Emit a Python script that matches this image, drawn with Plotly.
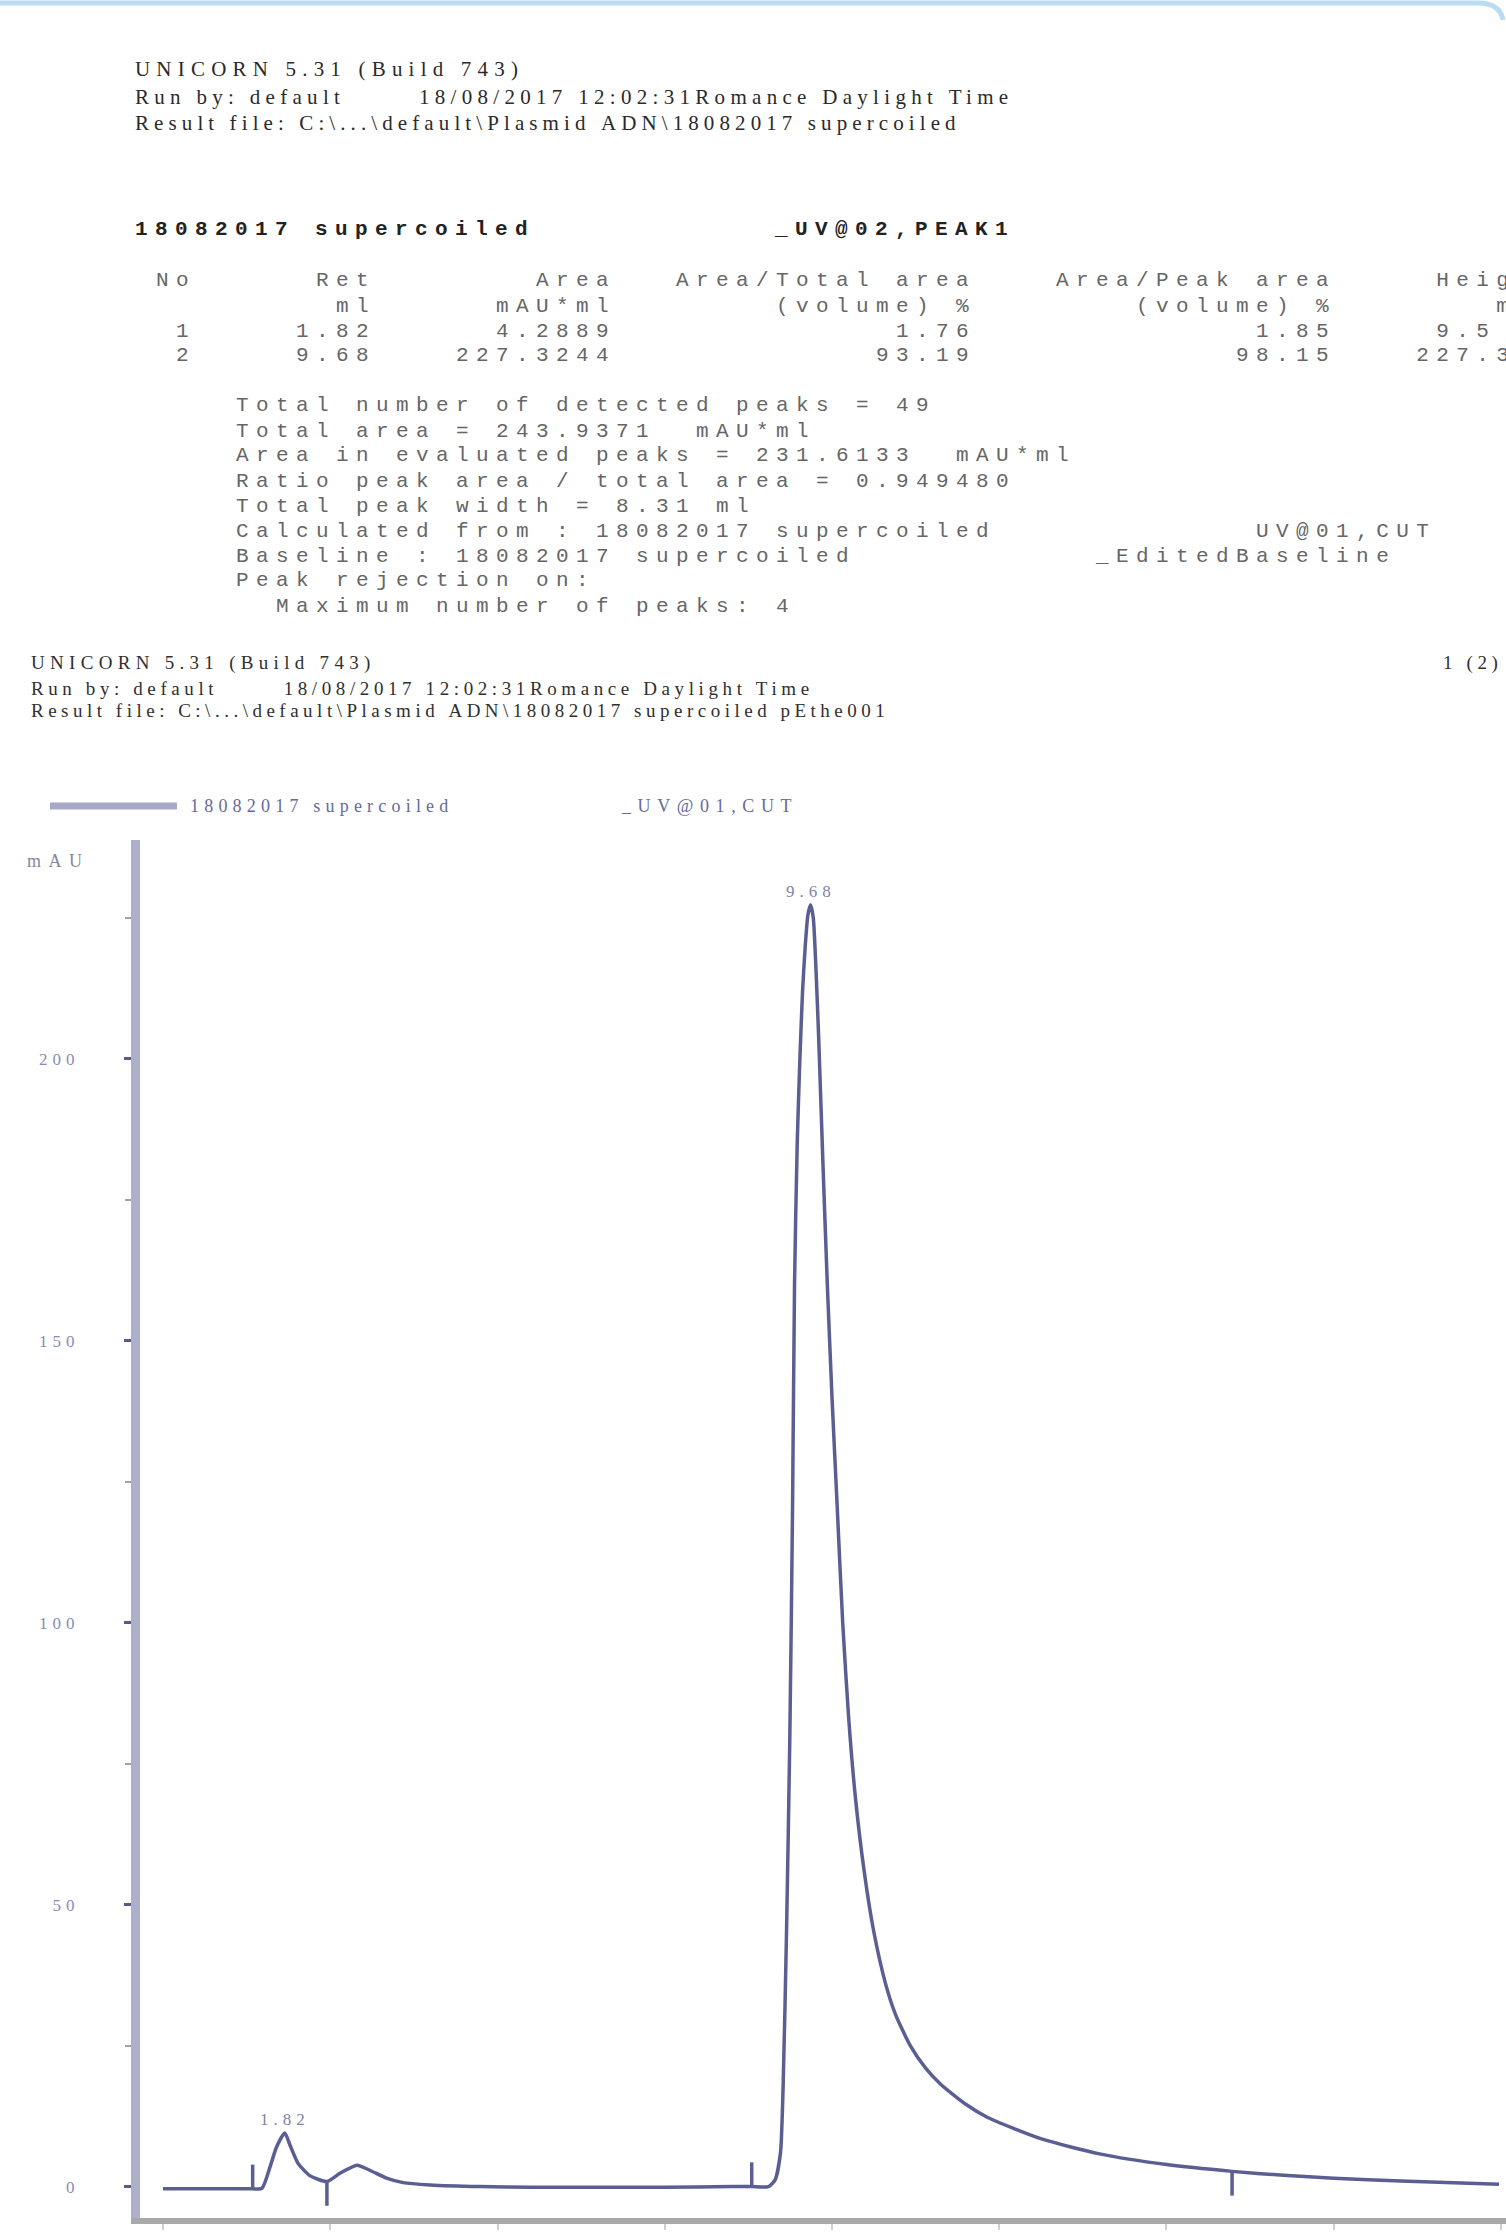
import plotly.graph_objects as go

# ---------------- data ----------------
volume_ml = [0.00, 0.60, 1.20, 1.34, 1.48, 1.60, 1.70, 1.82, 1.90, 2.02,
             2.20, 2.45, 2.65, 2.90, 3.09, 3.34, 3.59, 3.99, 4.74, 5.50,
             6.50, 7.50, 8.50, 8.80, 9.05, 9.15, 9.23, 9.27, 9.32, 9.37,
             9.41, 9.44, 9.48, 9.52, 9.56, 9.60, 9.64, 9.68, 9.72, 9.76,
             9.80, 9.86, 9.93, 10.00, 10.08, 10.16, 10.25, 10.35, 10.48, 10.62,
             10.80, 10.95, 11.17, 11.40, 11.62, 12.00, 12.32, 13.12, 14.00, 15.00,
             15.98, 16.75, 17.50, 18.50, 19.97]
uv_mau = [-0.4, -0.4, -0.4, -0.4, -0.3, 3.5, 7.1, 9.5, 7.3, 4.1,
          1.9, 0.9, 2.4, 3.8, 2.9, 1.5, 0.7, 0.3, 0.0, -0.1,
          -0.1, -0.1, 0.0, 0.0, 0.0, 1.2, 6.0, 18.0, 45.0, 80.0,
          120.0, 160.0, 185.0, 200.0, 212.0, 220.0, 225.5, 227.3, 225.0, 216.0,
          204.0, 183.0, 160.0, 140.0, 120.0, 100.0, 83.0, 69.0, 56.0, 45.5,
          36.0, 30.5, 25.0, 21.0, 18.2, 14.6, 12.3, 8.5, 5.8, 3.9,
          2.7, 2.0, 1.5, 1.0, 0.4]

peak_ret = [1.82, 9.68]
peak_height = [9.5, 227.3]
peak_labels = ["1.82", "9.68"]

# peak start / end markers (position, curve level, direction)
marker_ml = [1.34, 2.45, 8.80, 15.98]
marker_level = [-0.4, 0.9, 0.0, 2.7]
marker_dir = [1, -1, 1, -1]
MARK_LEN = 4.3

y_tickvals = [0, 50, 100, 150, 200]
y_ticklabels = ["0", "50", "100", "150", "200"]
y_minor = [25, 75, 125, 175, 225]
x_tickvals = [0, 5, 10, 15, 20]
x_ticklabels = ["0.0", "5.0", "10.0", "15.0", "20.0"]
x_minor = [2.5, 7.5, 12.5, 17.5]

header1 = ["UNICORN 5.31 (Build 743)",
           "Run by: default       18/08/2017 12:02:31Romance Daylight Time",
           "Result file: C:\\...\\default\\Plasmid ADN\\18082017 supercoiled"]
table_title = "18082017 supercoiled" + " " * 12 + "_UV@02,PEAK1"
table_lines = [
    " No" + " " * 6 + "Ret" + " " * 8 + "Area" + " " * 3 + "Area/Total area" + " " * 4 + "Area/Peak area" + " " * 5 + "Height",
    " " * 10 + "ml" + " " * 6 + "mAU*ml" + " " * 8 + "(volume) %" + " " * 8 + "(volume) %" + " " * 8 + "mAU",
    " " * 2 + "1" + " " * 5 + "1.82" + " " * 6 + "4.2889" + " " * 14 + "1.76" + " " * 14 + "1.85" + " " * 5 + "9.5",
    " " * 2 + "2" + " " * 5 + "9.68" + " " * 4 + "227.3244" + " " * 13 + "93.19" + " " * 13 + "98.15" + " " * 4 + "227.3",
]
summary_lines = [
    "Total number of detected peaks = 49",
    "Total area = 243.9371  mAU*ml",
    "Area in evaluated peaks = 231.6133  mAU*ml",
    "Ratio peak area / total area = 0.949480",
    "Total peak width = 8.31 ml",
    "Calculated from : 18082017 supercoiled" + " " * 13 + "UV@01,CUT",
    "Baseline : 18082017 supercoiled" + " " * 12 + "_EditedBaseline",
    "Peak rejection on:",
    "  Maximum number of peaks: 4",
]
header2 = ["UNICORN 5.31 (Build 743)",
           "Run by: default       18/08/2017 12:02:31Romance Daylight Time",
           "Result file: C:\\...\\default\\Plasmid ADN\\18082017 supercoiled pEthe001"]
page_no = "1 (2)"
legend_name = "18082017 supercoiled"
legend_curve = "_UV@01,CUT"
y_unit = "mAU"

# ---------------- layout geometry (pixels) ----------------
W, H = 1506, 2235
L, R, T, B = 140, 0, 840, 17
PW, PH = W - L - R, H - T - B
BOTTOM = H - B

def px(x):
    return (x - L) / PW

def py(y):
    return (BOTTOM - y) / PH

def sp(text, ls):
    t = text.replace(" ", "\u00a0")
    return f'<span style="letter-spacing:{ls}px">{t}</span>'

CURVE = "#5b5e92"
SERIF = "Liberation Serif"
MONO = "Liberation Mono"

fig = go.Figure()

fig.add_trace(go.Scatter(
    x=volume_ml, y=uv_mau, mode="lines",
    line=dict(color=CURVE, width=3.5, shape="spline", smoothing=0.6),
    hoverinfo="skip", showlegend=False))

mx, my = [], []
for m, lv, d in zip(marker_ml, marker_level, marker_dir):
    mx += [m, m, None]
    my += [lv, lv + d * MARK_LEN, None]
fig.add_trace(go.Scatter(x=mx, y=my, mode="lines",
                         line=dict(color=CURVE, width=3.5),
                         hoverinfo="skip", showlegend=False))

annotations = []

def add_text(text, x, y, size, family, color, ls, anchor="left", bold=False):
    t = sp(text, ls)
    if bold:
        t = "<b>" + t + "</b>"
    annotations.append(dict(
        text=t, x=px(x), y=py(y), xref="paper", yref="paper",
        xanchor=anchor, yanchor="middle", showarrow=False,
        font=dict(family=family, size=size, color=color), borderpad=0))

for line, yy, ls in zip(header1, [69, 97, 123], [6.2, 5.3, 5.1]):
    add_text(line, 134, yy, 21, SERIF, "#2a2a2a", ls)

add_text(table_title, 134, 229, 21, MONO, "#222222", 7.4, bold=True)

for i, line in enumerate(table_lines):
    add_text(line, 135, [280, 306, 331, 356][i], 21, MONO, "#666666", 7.4)

for i, line in enumerate(summary_lines):
    add_text(" " * 5 + line, 135, 406 + 25 * i, 21, MONO, "#666666", 7.4)

for line, yy, ls in zip(header2, [663, 688, 711], [5.3, 4.6, 4.5]):
    add_text(line, 30, yy, 19, SERIF, "#2f2f2f", ls)
add_text(page_no, 1442, 663, 19, SERIF, "#2f2f2f", 4.6)

add_text(legend_name, 189, 806, 18, SERIF, "#666a9a", 5.2)
add_text(legend_curve, 620, 806, 18, SERIF, "#666a9a", 6.6)
add_text(y_unit, 26, 861, 18, SERIF, "#85879f", 7.5)

for xv, yv, lab in zip(peak_ret, peak_height, peak_labels):
    annotations.append(dict(
        text=sp(lab, 5), x=xv, y=yv, xref="x", yref="y",
        xanchor="center", yanchor="bottom", showarrow=False, yshift=3,
        borderpad=0, font=dict(family=SERIF, size=17, color="#7f82aa")))

shapes = [
    # legend swatch
    dict(type="line", xref="paper", yref="paper",
         x0=px(50), x1=px(177), y0=py(806), y1=py(806),
         line=dict(color="#a6a8c5", width=7)),
    # light blue page frame edge at top
    dict(type="path", xref="paper", yref="paper",
         path=f"M {px(0)},{py(3)} L {px(1478)},{py(3)} Q {px(1500)},{py(3)} {px(1503)},{py(20)}",
         line=dict(color="#b9dcf3", width=5)),
]

fig.update_layout(
    template="none",
    width=W, height=H, autosize=False,
    margin=dict(l=L, r=R, t=T, b=B, pad=0),
    paper_bgcolor="white", plot_bgcolor="white",
    showlegend=False,
    annotations=annotations, shapes=shapes,
    xaxis=dict(range=[-0.344, 20.075], showgrid=False, zeroline=False,
               automargin=False,
               showline=True, linecolor="#a9a9a9", linewidth=6,
               ticks="outside", ticklen=6, tickwidth=2, tickcolor="#cfcfcf",
               tickvals=x_tickvals, ticktext=x_ticklabels,
               tickfont=dict(family=SERIF, size=17, color="#999999"),
               minor=dict(tickvals=x_minor, ticklen=6, tickcolor="#cfcfcf", tickwidth=2)),
    yaxis=dict(range=[-5.57, 238.8], showgrid=False, zeroline=False,
               automargin=False,
               showline=True, linecolor="#aeb0ca", linewidth=9,
               ticks="outside", ticklen=7, tickwidth=2.5, tickcolor="#56598c",
               tickvals=y_tickvals,
               ticktext=[sp(t, 5) for t in y_ticklabels],
               ticklabelstandoff=41,
               tickfont=dict(family=SERIF, size=17, color="#8a8cb0"),
               minor=dict(tickvals=y_minor, ticklen=6, tickcolor="#9ea0bf", tickwidth=2)),
)

fig.write_html("out.html", config={"displayModeBar": False},
               post_script="document.body.style.margin='0';")
